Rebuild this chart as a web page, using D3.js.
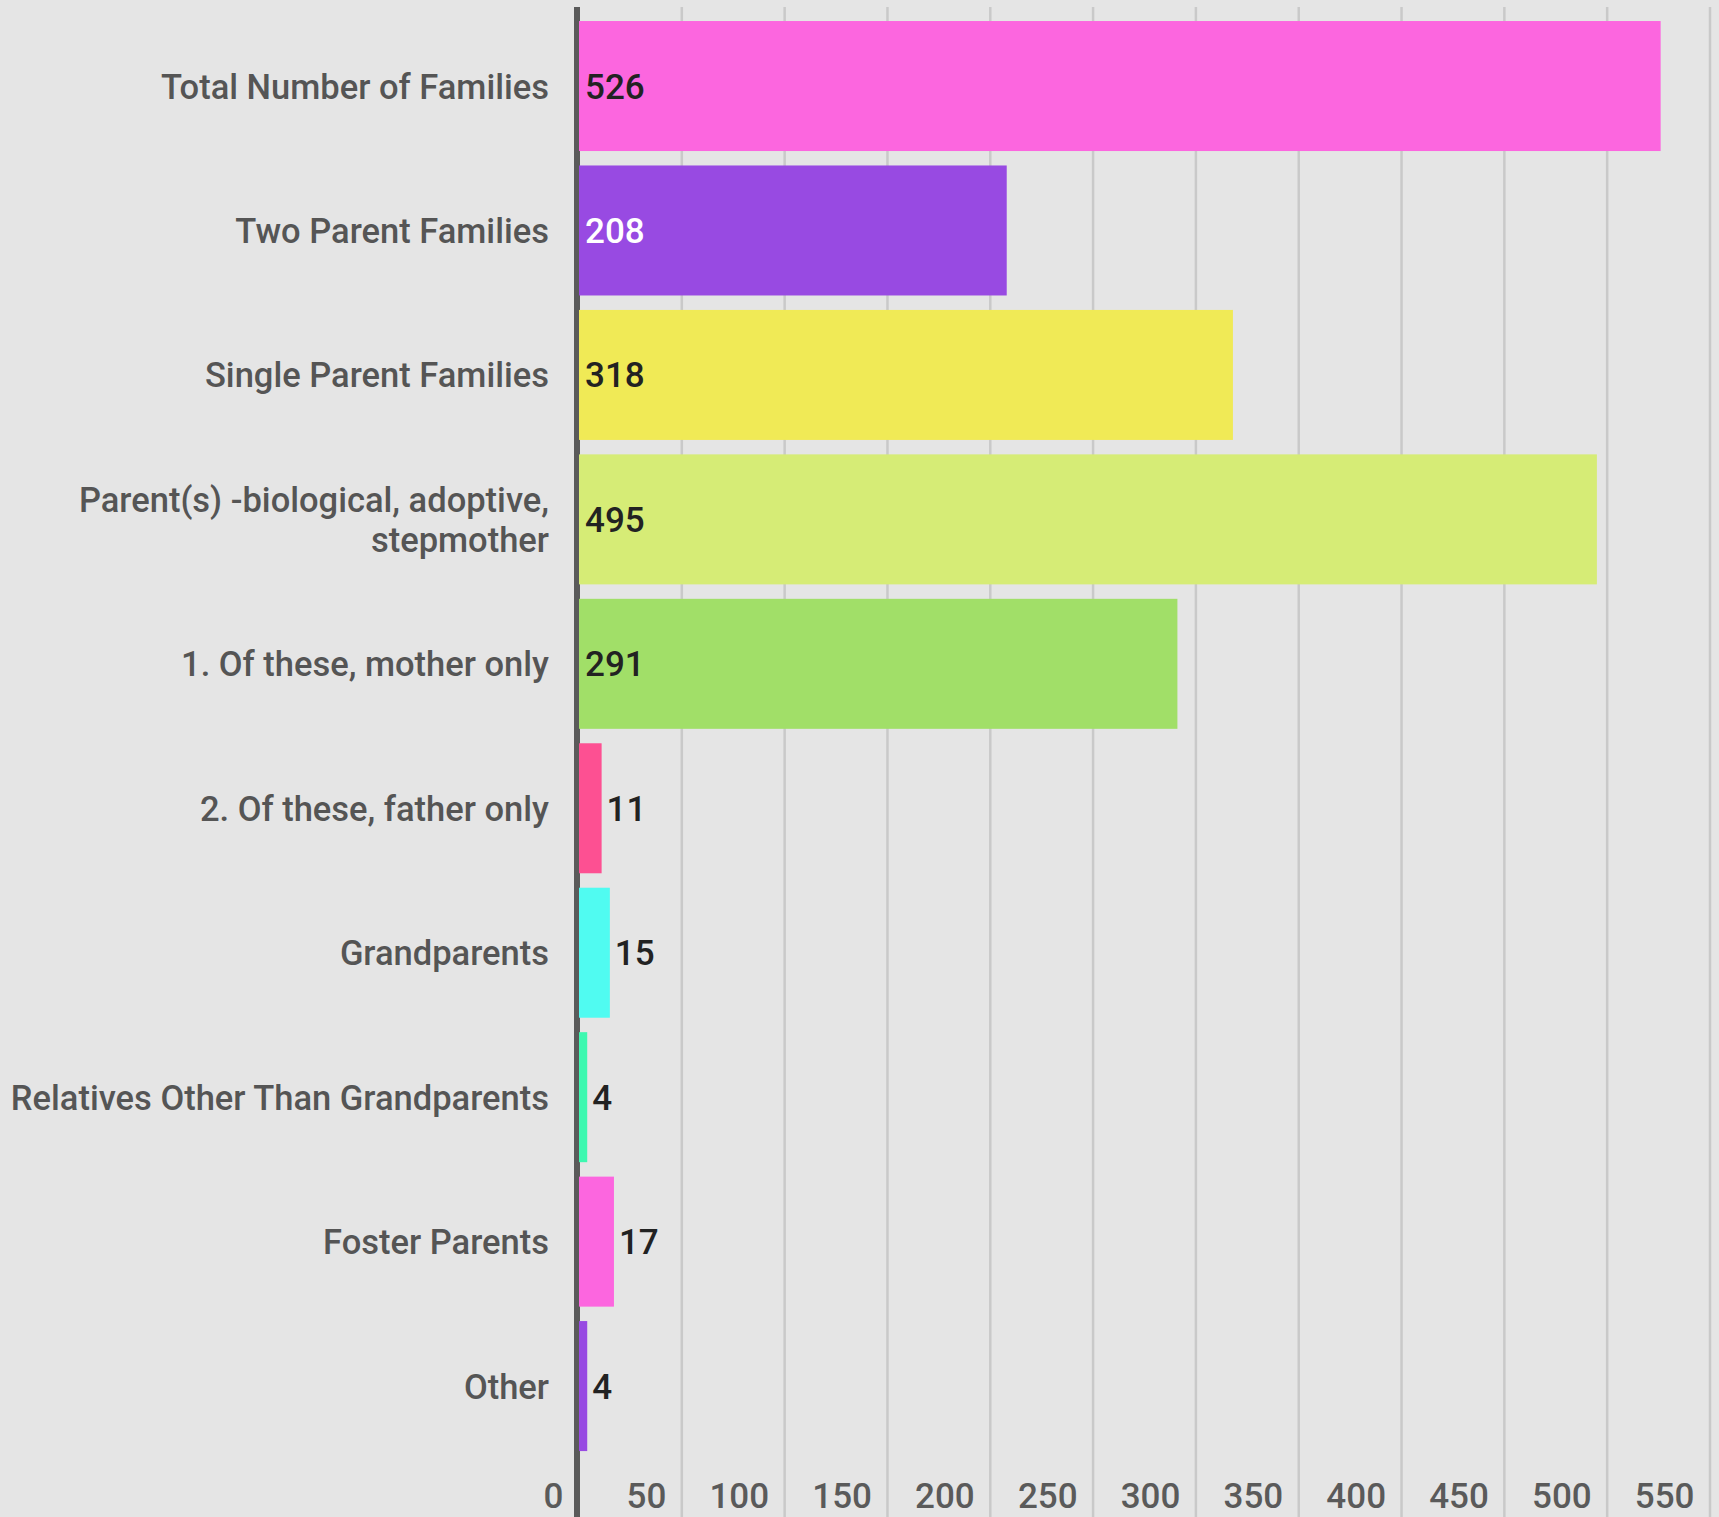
<!DOCTYPE html>
<html>
<head>
<meta charset="utf-8">
<script src="https://cdn.jsdelivr.net/npm/d3@7"></script>
<style>
  html, body { margin: 0; padding: 0; background: #e5e5e5; }
  svg { display: block; }
  text { font-family: Roboto, "Noto Sans", sans-serif; }
</style>
</head>
<body>
<script>
const categories = [
  "Total Number of Families",
  "Two Parent Families",
  "Single Parent Families",
  "Parent(s) -biological, adoptive, stepmother",
  "1. Of these, mother only",
  "2. Of these, father only",
  "Grandparents",
  "Relatives Other Than Grandparents",
  "Foster Parents",
  "Other"
];
const values = [526, 208, 318, 495, 291, 11, 15, 4, 17, 4];
const palette = ["#fc66df", "#984ae2", "#f0ea56", "#d6ec76", "#a1df68", "#fd5092", "#50fbf1", "#3df8b0"];
const tickValues = [0, 50, 100, 150, 200, 250, 300, 350, 400, 450, 500, 550];

const W = 1719, H = 1517;
const svg = d3.select("body").append("svg").attr("width", W).attr("height", H);
svg.append("rect").attr("width", W).attr("height", H).attr("fill", "#e5e5e5");

const x = d3.scaleLinear().domain([0, 550]).range([579, 1710]);
const y = d3.scaleBand().domain(categories).range([13.8, 1458.3]).paddingInner(0.1).paddingOuter(0.05);

const plotTop = 7;
const fs = "35px";
const catFs = "34.5px";

// gridlines
svg.append("g").selectAll("line").data(tickValues.filter(t => t > 0)).join("line")
  .attr("x1", d => x(d)).attr("x2", d => x(d))
  .attr("y1", plotTop).attr("y2", H)
  .attr("stroke", "#c9c9c9").attr("stroke-width", 2.5);

// x axis tick labels
const xAxis = d3.axisBottom(x).tickValues(tickValues).tickSize(0).tickFormat(d3.format("d"));
const gx = svg.append("g").call(xAxis);
gx.select(".domain").remove();
gx.selectAll("text")
  .attr("y", 1508).attr("dy", 0).attr("dx", -16)
  .attr("text-anchor", "end")
  .attr("fill", "#5a5a5a")
  .style("font-size", fs).style("font-weight", 500)
  .style("font-family", "Roboto, sans-serif");

// axis line
svg.append("rect").attr("x", x(0) - 5).attr("y", plotTop).attr("width", 6).attr("height", H - plotTop).attr("fill", "#5a5a5a");

// bars
const data = categories.map((c, i) => ({ c, v: values[i], color: palette[i % palette.length] }));
svg.append("g").selectAll("rect").data(data).join("rect")
  .attr("x", x(0)).attr("y", d => y(d.c))
  .attr("width", d => x(d.v) - x(0)).attr("height", y.bandwidth())
  .attr("fill", d => d.color);

// category labels
const labelG = svg.append("g");
const maxW = 560;
data.forEach(d => {
  const t = labelG.append("text")
    .attr("text-anchor", "end")
    .attr("fill", "#555555")
    .style("font-size", catFs).style("font-weight", 500);
  const words = d.c.split(" ");
  let lines = [];
  let line = [];
  const probe = t.append("tspan");
  words.forEach(w => {
    line.push(w);
    probe.text(line.join(" "));
    if (probe.node().getComputedTextLength() > maxW && line.length > 1) {
      line.pop();
      lines.push(line.join(" "));
      line = [w];
    }
  });
  lines.push(line.join(" "));
  probe.remove();
  const lh = 40;
  const cy = y(d.c) + y.bandwidth() / 2;
  const first = cy + 12.5 - (lines.length - 1) * lh / 2;
  lines.forEach((l, i) => {
    t.append("tspan").attr("x", 549).attr("y", first + i * lh).text(l);
  });
});

// value labels
const valG = svg.append("g");
data.forEach(d => {
  const t = valG.append("text")
    .style("font-size", fs).style("font-weight", 500)
    .attr("y", y(d.c) + y.bandwidth() / 2 + 12.5)
    .text(d.v);
  const tw = t.node().getComputedTextLength();
  const bw = x(d.v) - x(0);
  const c = d3.color(d.color);
  const lum = (0.299 * c.r + 0.587 * c.g + 0.114 * c.b);
  if (bw > tw + 14) {
    t.attr("x", x(0) + 6).attr("fill", lum < 140 ? "#ffffff" : "#222222");
  } else {
    t.attr("x", x(d.v) + 5).attr("fill", "#222222");
  }
});
</script>
</body>
</html>
